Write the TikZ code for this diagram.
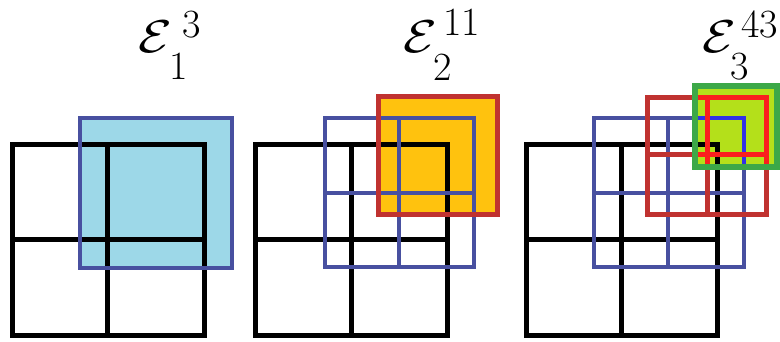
\documentclass[tikz,border=0pt]{standalone}
\usepackage{graphicx}
\usepackage{amsmath}
\definecolor{lbluefill}{RGB}{157,216,232}
\definecolor{bline}{RGB}{72,80,160}
\definecolor{ofill}{RGB}{255,194,14}
\definecolor{rline}{RGB}{192,50,48}
\definecolor{gline}{RGB}{60,168,72}
\definecolor{gfill}{RGB}{180,224,26}
\definecolor{brred}{RGB}{250,30,30}
\definecolor{brblue}{RGB}{50,50,230}
\tikzset{
  blackgrid/.style={draw=black,line width=5pt},
  bluegrid/.style={draw=bline,line width=4.5pt},
  redgrid/.style={draw=rline,line width=5pt},
  greenbox/.style={draw=gline,line width=6pt},
  bigE/.style={anchor=base west,inner sep=0pt,font=\Huge},
  idx/.style={anchor=base west,inner sep=0pt,font=\Huge}
}
\newcommand\myE{\scalebox{2.2}[1.85]{$\mathcal{E}$}}
\newcommand\myidx[1]{\scalebox{1.61}{#1}}
\newcommand\mygrid[7][]{%
  \draw[#1] (#2,#3) rectangle (#4,#5) (#6,#3) -- (#6,#5) (#2,#7) -- (#4,#7);}
\begin{document}
\begin{tikzpicture}[x=1pt,y=-1pt]
\useasboundingbox (0,0) rectangle (780,342);
% ---------- panel 1
\fill[lbluefill] (80,118) rectangle (232,268);
\mygrid[blackgrid]{12.5}{145}{204}{335}{107.5}{240}
\draw[bluegrid] (80,118) rectangle (232,268);
\node[bigE] (e1) at (138,53) {\myE};
\node[idx] (p1) at (182,38) {\myidx{3}};
\node[idx] (s1) at (169,80) {\myidx{1}};
% ---------- panel 2
\fill[ofill] (378,97) rectangle (497,215);
\mygrid[blackgrid]{255}{145}{447}{335}{351}{240}
\mygrid[bluegrid]{325}{118}{474}{267}{399}{193}
\draw[redgrid] (378,97) rectangle (497,215);
\node[bigE] (e2) at (403,53) {\myE};
\node[idx] (p2) at (443,36) {\myidx{11}};
\node[idx] (s2) at (433,81) {\myidx{2}};
% ---------- panel 3
\fill[gfill] (695,86) rectangle (777,167);
\mygrid[blackgrid]{526}{145}{717}{335}{621}{240}
\mygrid[bluegrid]{594}{118}{744}{267}{668}{193}
\mygrid[redgrid]{647}{98}{766}{215}{707}{155}
\begin{scope}
  \clip (695,86) rectangle (777,167);
  \mygrid[bluegrid,draw=brblue]{594}{118}{744}{267}{668}{193}
  \mygrid[redgrid,draw=brred]{647}{98}{766}{215}{707}{155}
\end{scope}
\draw[greenbox] (695,86) rectangle (777,167);
\node[bigE] (e3) at (702,53) {\myE};
\node[idx] (p3) at (741,38) {\myidx{43}};
\node[idx] (s3) at (730,80) {\myidx{3}};
\end{tikzpicture}
\end{document}
